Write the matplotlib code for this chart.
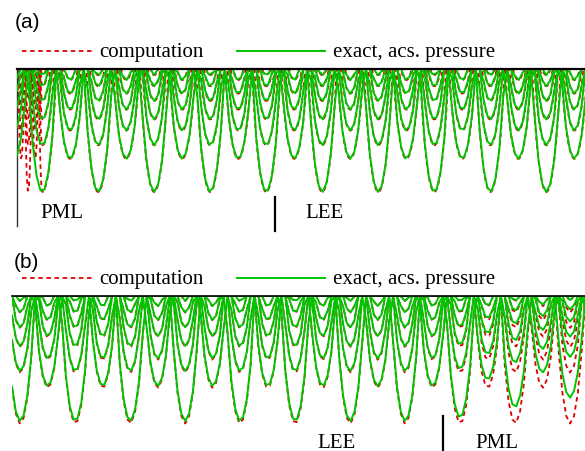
import numpy as np
import matplotlib.pyplot as plt
from matplotlib.lines import Line2D

W, H = 585, 452

# depth of each pressure curve (largest = 1), arc width at the top and x of its
# first trough, all in wavelengths
amp_a = [1.0, 0.73, 0.62, 0.50, 0.41, 0.33, 0.26, 0.20, 0.14, 0.09, 0.05]
width_a = [0.50, 0.46, 0.42, 0.38, 0.35, 0.32, 0.29, 0.26, 0.22, 0.18, 0.14]
trough_a = [0.45, 0.95, 0.45, 0.95, 0.45, 0.95, 0.45, 0.95, 0.45, 0.95, 0.45]
amp_b = [1.0, 0.72, 0.60, 0.50, 0.40, 0.32, 0.25, 0.19, 0.13, 0.08, 0.04]
width_b = [0.52, 0.47, 0.43, 0.39, 0.36, 0.33, 0.30, 0.27, 0.23, 0.19, 0.14]
trough_b = [0.15, 0.65, 0.15, 0.65, 0.15, 0.65, 0.15, 0.65, 0.15, 0.65, 0.15]

# PML / LEE interface positions and extents of each panel
interface_a = 4.61
interface_b = 7.84
xmax_a, xmax_b = 10.14, 10.42
ymin_a, ymin_b = -1.276, -1.24
squeeze_a = 4.0      # stretching of the computed field next to the left PML wall
sigma_b = 0.09       # decay of the exact field inside the right PML
gain_b = 1.02        # slight overshoot of the computed field in (b)
step = 0.07          # output spacing of the solution, in wavelengths

RED = '#dc0000'
GREEN = '#00c400'
SERIF = 'Liberation Serif'


def px(x, y):
    return x / W, 1 - y / H


def pressure(x, amp, width, trough):
    # one hanging arc per wavelength, flat on the zero line between arcs
    u = ((x - trough + 0.5) % 1.0 - 0.5) / (width / 2)
    return -amp * np.clip(1 - u ** 2, 0, None) ** 0.8


def legend_row(y):
    xa, ya = px(22, y)
    xb, _ = px(93, y)
    fig.add_artist(Line2D([xa, xb], [ya, ya], color=RED, lw=1.3,
                          dashes=(2.5, 2), transform=fig.transFigure))
    fig.text(*px(99, y + 5), 'computation', family=SERIF, size=15, va='baseline')
    xa, _ = px(237, y)
    xb, _ = px(325, y)
    fig.add_artist(Line2D([xa, xb], [ya, ya], color=GREEN, lw=1.4,
                          transform=fig.transFigure))
    fig.text(*px(333, y + 5), 'exact, acs. pressure', family=SERIF, size=15, va='baseline')


fig = plt.figure(figsize=(W / 100, H / 100), dpi=100)

# ---- panel (a): PML on the left
l, t = px(17, 70)
_, b = px(17, 227)
ax1 = fig.add_axes([l, b, 1 - l, t - b])
x = np.arange(0, xmax_a + step, step)
xc = np.arange(0, xmax_a + step, step / 4)
x0 = trough_a[0]
xs = np.where(xc < x0, x0 - (x0 - xc) * squeeze_a, xc)
for A, w, c in zip(amp_a, width_a, trough_a):
    ax1.plot(xc, pressure(xs, A, w, c), color=RED, lw=1.3, dashes=(2.5, 2), zorder=2)
for A, w, c in zip(amp_a, width_a, trough_a):
    ax1.plot(x, pressure(x, A, w, c), color=GREEN, lw=1.4, zorder=3)
ax1.set_xlim(0, xmax_a)
ax1.set_ylim(ymin_a, 0)
for s in ['right', 'bottom']:
    ax1.spines[s].set_visible(False)
ax1.spines['top'].set_linewidth(1.6)
ax1.spines['top'].set_zorder(4)
ax1.spines['left'].set_linewidth(1.0)
ax1.spines['left'].set_color('#333333')
ax1.set_xticks([])
ax1.set_yticks([])
ax1.patch.set_visible(False)
ax1.plot([interface_a, interface_a], [-1.04, -1.32], color='black', lw=1.6, clip_on=False)
ax1.text(0.41, -1.205, 'PML', family=SERIF, size=15, va='baseline')
ax1.text(5.14, -1.205, 'LEE', family=SERIF, size=15, va='baseline')

# ---- panel (b): PML on the right
l, t = px(12, 297)
ax2 = fig.add_axes([l, 0, 1 - l, t])
x = np.arange(0, xmax_b + step, step)
damp = np.where(x > interface_b, np.exp(-sigma_b * (x - interface_b)), 1.0)
for A, w, c in zip(amp_b, width_b, trough_b):
    ax2.plot(x, gain_b * pressure(x, A, w, c), color=RED, lw=1.3, dashes=(2.5, 2), zorder=2)
for A, w, c in zip(amp_b, width_b, trough_b):
    ax2.plot(x, pressure(x, A, w, c) * damp, color=GREEN, lw=1.4, zorder=3)
ax2.set_xlim(0, xmax_b)
ax2.set_ylim(ymin_b, 0)
for s in ['right', 'bottom', 'left']:
    ax2.spines[s].set_visible(False)
ax2.spines['top'].set_linewidth(1.2)
ax2.spines['top'].set_zorder(4)
ax2.set_xticks([])
ax2.set_yticks([])
ax2.patch.set_visible(False)
ax2.plot([interface_b, interface_b], [-0.96, -1.3], color='black', lw=1.6, clip_on=False)
ax2.text(5.55, -1.208, 'LEE', family=SERIF, size=15, va='baseline')
ax2.text(8.42, -1.208, 'PML', family=SERIF, size=15, va='baseline')

# panel tags and legends
fig.text(*px(15, 23), '(a)', family='Liberation Sans', size=15, va='center')
fig.text(*px(14, 262), '(b)', family='Liberation Sans', size=15, va='center')
legend_row(52)
legend_row(279)

fig.savefig('out.png', dpi=100)
